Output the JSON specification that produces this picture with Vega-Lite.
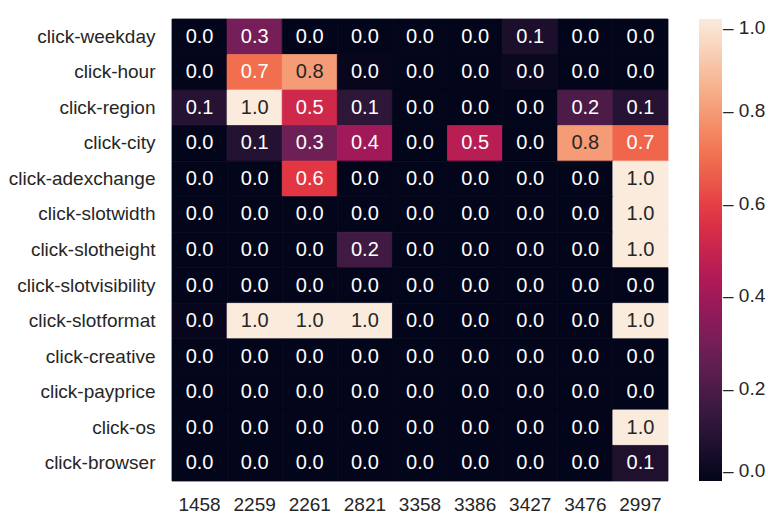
{
  "$schema": "https://vega.github.io/schema/vega-lite/v6.json",
  "width": 496,
  "height": 462,
  "autosize": "none",
  "padding": {"left": 172, "top": 19, "right": 100, "bottom": 33},
  "background": "white",
  "config": {
    "view": {"stroke": null},
    "font": "Liberation Sans",
    "axis": {"labelFont": "Liberation Sans", "labelColor": "#262626", "labelFontSize": 19, "ticks": false, "tickSize": 0, "domain": false, "grid": false, "title": null},
    "legend": {"labelFont": "Liberation Sans", "labelColor": "#262626", "labelFontSize": 19}
  },
  "data": {"values": [
    {"f":"click-weekday","c":"1458","v":0},{"f":"click-weekday","c":"2259","v":0.3},{"f":"click-weekday","c":"2261","v":0},{"f":"click-weekday","c":"2821","v":0},{"f":"click-weekday","c":"3358","v":0},{"f":"click-weekday","c":"3386","v":0},{"f":"click-weekday","c":"3427","v":0.07},{"f":"click-weekday","c":"3476","v":0},{"f":"click-weekday","c":"2997","v":0},
    {"f":"click-hour","c":"1458","v":0},{"f":"click-hour","c":"2259","v":0.7},{"f":"click-hour","c":"2261","v":0.8},{"f":"click-hour","c":"2821","v":0.01},{"f":"click-hour","c":"3358","v":0},{"f":"click-hour","c":"3386","v":0},{"f":"click-hour","c":"3427","v":0.02},{"f":"click-hour","c":"3476","v":0},{"f":"click-hour","c":"2997","v":0},
    {"f":"click-region","c":"1458","v":0.1},{"f":"click-region","c":"2259","v":1.0},{"f":"click-region","c":"2261","v":0.52},{"f":"click-region","c":"2821","v":0.12},{"f":"click-region","c":"3358","v":0},{"f":"click-region","c":"3386","v":0},{"f":"click-region","c":"3427","v":0},{"f":"click-region","c":"3476","v":0.2},{"f":"click-region","c":"2997","v":0.1},
    {"f":"click-city","c":"1458","v":0},{"f":"click-city","c":"2259","v":0.09},{"f":"click-city","c":"2261","v":0.28},{"f":"click-city","c":"2821","v":0.4},{"f":"click-city","c":"3358","v":0},{"f":"click-city","c":"3386","v":0.46},{"f":"click-city","c":"3427","v":0},{"f":"click-city","c":"3476","v":0.8},{"f":"click-city","c":"2997","v":0.68},
    {"f":"click-adexchange","c":"1458","v":0},{"f":"click-adexchange","c":"2259","v":0},{"f":"click-adexchange","c":"2261","v":0.58},{"f":"click-adexchange","c":"2821","v":0},{"f":"click-adexchange","c":"3358","v":0},{"f":"click-adexchange","c":"3386","v":0},{"f":"click-adexchange","c":"3427","v":0},{"f":"click-adexchange","c":"3476","v":0},{"f":"click-adexchange","c":"2997","v":1.0},
    {"f":"click-slotwidth","c":"1458","v":0},{"f":"click-slotwidth","c":"2259","v":0},{"f":"click-slotwidth","c":"2261","v":0},{"f":"click-slotwidth","c":"2821","v":0},{"f":"click-slotwidth","c":"3358","v":0},{"f":"click-slotwidth","c":"3386","v":0},{"f":"click-slotwidth","c":"3427","v":0},{"f":"click-slotwidth","c":"3476","v":0},{"f":"click-slotwidth","c":"2997","v":1.0},
    {"f":"click-slotheight","c":"1458","v":0},{"f":"click-slotheight","c":"2259","v":0},{"f":"click-slotheight","c":"2261","v":0},{"f":"click-slotheight","c":"2821","v":0.17},{"f":"click-slotheight","c":"3358","v":0},{"f":"click-slotheight","c":"3386","v":0},{"f":"click-slotheight","c":"3427","v":0},{"f":"click-slotheight","c":"3476","v":0},{"f":"click-slotheight","c":"2997","v":1.0},
    {"f":"click-slotvisibility","c":"1458","v":0},{"f":"click-slotvisibility","c":"2259","v":0},{"f":"click-slotvisibility","c":"2261","v":0},{"f":"click-slotvisibility","c":"2821","v":0},{"f":"click-slotvisibility","c":"3358","v":0},{"f":"click-slotvisibility","c":"3386","v":0},{"f":"click-slotvisibility","c":"3427","v":0},{"f":"click-slotvisibility","c":"3476","v":0},{"f":"click-slotvisibility","c":"2997","v":0},
    {"f":"click-slotformat","c":"1458","v":0.01},{"f":"click-slotformat","c":"2259","v":1.0},{"f":"click-slotformat","c":"2261","v":1.0},{"f":"click-slotformat","c":"2821","v":1.0},{"f":"click-slotformat","c":"3358","v":0},{"f":"click-slotformat","c":"3386","v":0},{"f":"click-slotformat","c":"3427","v":0},{"f":"click-slotformat","c":"3476","v":0},{"f":"click-slotformat","c":"2997","v":1.0},
    {"f":"click-creative","c":"1458","v":0},{"f":"click-creative","c":"2259","v":0},{"f":"click-creative","c":"2261","v":0},{"f":"click-creative","c":"2821","v":0},{"f":"click-creative","c":"3358","v":0},{"f":"click-creative","c":"3386","v":0},{"f":"click-creative","c":"3427","v":0},{"f":"click-creative","c":"3476","v":0},{"f":"click-creative","c":"2997","v":0},
    {"f":"click-payprice","c":"1458","v":0},{"f":"click-payprice","c":"2259","v":0},{"f":"click-payprice","c":"2261","v":0},{"f":"click-payprice","c":"2821","v":0},{"f":"click-payprice","c":"3358","v":0},{"f":"click-payprice","c":"3386","v":0},{"f":"click-payprice","c":"3427","v":0},{"f":"click-payprice","c":"3476","v":0},{"f":"click-payprice","c":"2997","v":0},
    {"f":"click-os","c":"1458","v":0},{"f":"click-os","c":"2259","v":0},{"f":"click-os","c":"2261","v":0},{"f":"click-os","c":"2821","v":0},{"f":"click-os","c":"3358","v":0},{"f":"click-os","c":"3386","v":0},{"f":"click-os","c":"3427","v":0},{"f":"click-os","c":"3476","v":0},{"f":"click-os","c":"2997","v":1.0},
    {"f":"click-browser","c":"1458","v":0},{"f":"click-browser","c":"2259","v":0},{"f":"click-browser","c":"2261","v":0},{"f":"click-browser","c":"2821","v":0},{"f":"click-browser","c":"3358","v":0},{"f":"click-browser","c":"3386","v":0},{"f":"click-browser","c":"3427","v":0},{"f":"click-browser","c":"3476","v":0},{"f":"click-browser","c":"2997","v":0.08}
  ]},
  "encoding": {
    "x": {"field": "c", "type": "nominal", "sort": ["1458","2259","2261","2821","3358","3386","3427","3476","2997"], "scale": {"paddingInner": 0, "paddingOuter": 0}, "axis": {"orient": "bottom", "labelAngle": 0, "labelPadding": 14, "labelBaseline": "top"}},
    "y": {"field": "f", "type": "nominal", "sort": ["click-weekday","click-hour","click-region","click-city","click-adexchange","click-slotwidth","click-slotheight","click-slotvisibility","click-slotformat","click-creative","click-payprice","click-os","click-browser"], "scale": {"paddingInner": 0, "paddingOuter": 0}, "axis": {"labelPadding": 17}}
  },
  "layer": [
    {
      "mark": {"type": "rect", "strokeWidth": 0.8, "stroke": {"expr": "scale('fill', datum.v)"}},
      "encoding": {
        "fill": {
          "field": "v", "type": "quantitative",
          "scale": {"type": "linear", "domain": [0, 0.142857, 0.285714, 0.428571, 0.571429, 0.714286, 0.857143, 1], "range": ["#03051a", "#35193e", "#701f57", "#ad1759", "#e13342", "#f37651", "#f6b48f", "#faebdd"], "interpolate": "rgb"},
          "legend": {"title": null, "type": "gradient", "direction": "vertical", "orient": "right", "gradientLength": 462, "gradientThickness": 23, "offset": 31, "padding": 0, "values": [0, 0.2, 0.4, 0.6, 0.8, 1.0], "labelExpr": "'\u2013 ' + format(datum.value, '.1f')", "labelOffset": 1, "gradientStrokeWidth": 0, "labelOverlap": false}
        }
      }
    },
    {
      "mark": {"type": "text", "fontSize": 20, "font": "Liberation Sans", "baseline": "middle"},
      "encoding": {
        "text": {"field": "v", "type": "quantitative", "format": ".1f"},
        "color": {"condition": {"test": "datum.v > 0.75", "value": "#262626"}, "value": "#ffffff"}
      }
    }
  ]
}
